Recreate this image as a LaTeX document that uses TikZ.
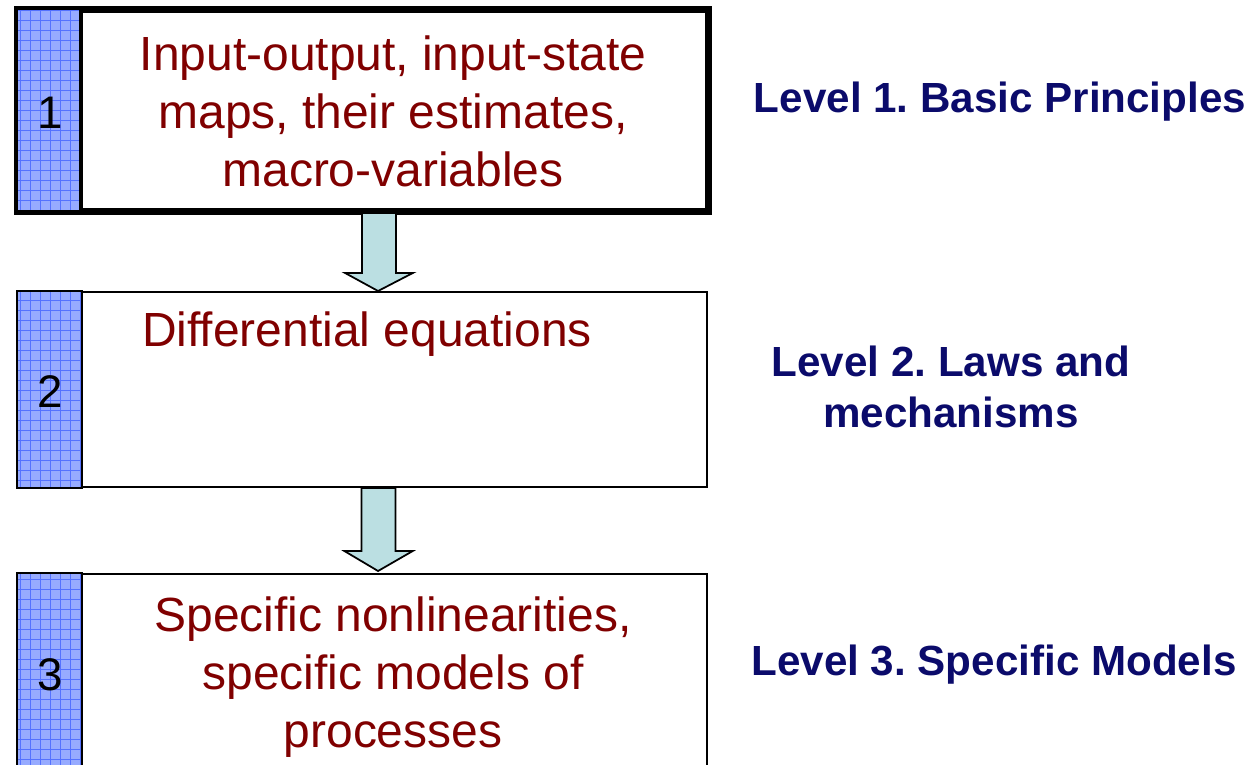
\documentclass[tikz,border=0pt]{standalone}
\usepackage{fontspec}
\setmainfont{Liberation Sans}
\usetikzlibrary{calc}
\definecolor{textred}{HTML}{800000}
\definecolor{levelblue}{HTML}{0B0B6B}
\definecolor{stripblue}{HTML}{97ABFF}
\definecolor{gridblue}{HTML}{5572FF}
\definecolor{arrowcyan}{HTML}{BBDFE2}

\begin{document}
\frenchspacing
\begin{tikzpicture}[
  x=0.02cm, y=-0.02cm,
  box/.style={draw=black, line width=1.2pt, minimum width=0.02cm*689, minimum height=0.02cm*195, inner sep=0pt, anchor=north west},
  strip/.style={draw=black, line width=1.2pt, fill=stripblue},
  boxtext/.style={text=textred, font=\fontsize{27.3}{33}\selectfont, align=center},
  leveltext/.style={text=levelblue, font=\fontsize{24}{29}\selectfont\bfseries, align=center},
  numtext/.style={font=\fontsize{26}{30}\selectfont},
  barrow/.style={draw=black, line width=1pt, fill=arrowcyan, line join=miter}
]
  \useasboundingbox (0,0) rectangle (1260,764);
  \clip (0,0) rectangle (1260,764);

  % boxes
  \node[box, line width=2.8pt, minimum height=0.02cm*200] (b1) at (16,8) {};
  \node[box] (b2) at (17,291) {};
  \node[box, minimum height=0.02cm*230] (b3) at (17,573) {};

  % blue strips with grid
  \foreach \b in {b1,b2,b3} {
    \coordinate (\b se) at ($(\b.south west)+(65,0)$);
    \fill[stripblue] (\b.north west) rectangle (\b se);
    \begin{scope}
      \clip (\b.north west) rectangle (\b se);
      \draw[gridblue, line width=0.45pt, xstep=0.2cm, ystep=0.2cm] (\b.north west) grid (\b se);
    \end{scope}
    \draw[line width=1.2pt] (\b.north west) rectangle (\b se);
  }
  \draw[line width=2.8pt] (b1.north west) rectangle (b1.south east);
  \draw[line width=2.8pt] (b1se) -- (b1se |- b1.north);

  % numbers
  \node[numtext] (n1) at (50,113) {1};
  \node[numtext] (n2) at (50,392) {2};
  \node[numtext] (n3) at (50,675) {3};

  % box texts
  \node[boxtext] (t1) at (393,111) {Input-output, input-state\\maps, their estimates,\\macro-variables};
  \node[boxtext] (t2) at (367,334) {Differential equations};
  \node[boxtext] (t3) at (393,677) {Specific nonlinearities,\\specific models of\\processes};

  % level labels
  \node[leveltext] (l1) at (1000,102) {Level 1. Basic Principles};
  \node[leveltext] (l2) at (951,387) {Level 2. Laws and\\mechanisms};
  \node[leveltext] (l3) at (994,665) {Level 3. Specific Models};

  % block arrows
  \draw[barrow] ($(b1.south)+(-1,0)$) -- ++(0,60) -- ++(-17,0) -- ($(b2.north)+(15.5,0)$)
    -- ($(b1.south)+(50,60)$) -- ++(-17,0) -- ($(b1.south)+(33,0)$) -- cycle;
  \draw[barrow] ($(b2.south)+(-1,0)$) -- ++(0,63) -- ++(-17,0) -- ($(b3.north)+(15.5,-2)$)
    -- ($(b2.south)+(50,63)$) -- ++(-17,0) -- ($(b2.south)+(33,0)$) -- cycle;
\end{tikzpicture}
\end{document}
